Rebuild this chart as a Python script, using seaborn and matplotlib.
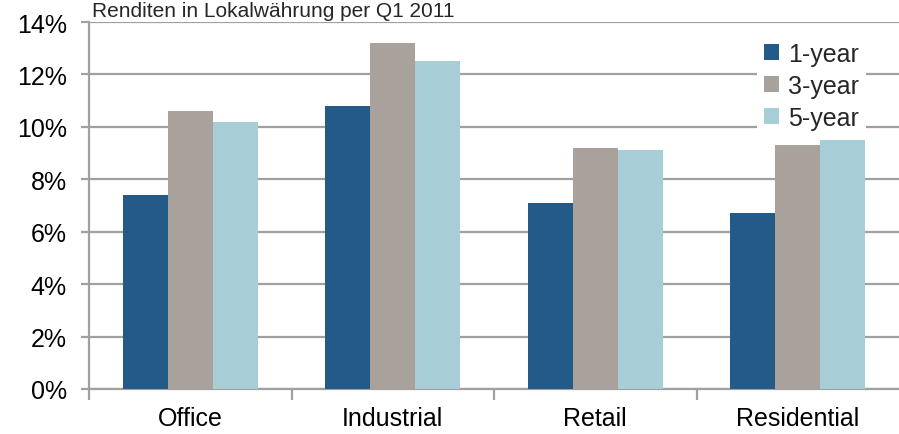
import matplotlib
matplotlib.use("Agg")
import matplotlib.pyplot as plt
import seaborn as sns
import pandas as pd
from matplotlib.ticker import FixedLocator

categories = ["Office", "Industrial", "Retail", "Residential"]
series = ["1-year", "3-year", "5-year"]
one_year = [7.4, 10.8, 7.1, 6.7]
three_year = [10.6, 13.2, 9.2, 9.3]
five_year = [10.2, 12.5, 9.1, 9.5]
y_ticks = [0, 2, 4, 6, 8, 10, 12, 14]
y_tick_labels = ["0%", "2%", "4%", "6%", "8%", "10%", "12%", "14%"]
title = "Renditen in Lokalwährung per Q1 2011"
colors = ["#245A87", "#A9A19C", "#A7CDD7"]

rows = []
for s, vals in zip(series, [one_year, three_year, five_year]):
    for c, v in zip(categories, vals):
        rows.append({"Category": c, "Series": s, "Value": v})
df = pd.DataFrame(rows)

sns.set_theme(style="white")
plt.rcParams["font.family"] = ["Liberation Sans", "DejaVu Sans"]

fig = plt.figure(figsize=(8.99, 4.35), dpi=100)
ax = fig.add_axes([89 / 899, 45 / 435, 810 / 899, 367 / 435])

sns.barplot(data=df, x="Category", y="Value", hue="Series", order=categories,
            hue_order=series, palette=colors, width=0.667, saturation=1,
            edgecolor="none", linewidth=0, ax=ax, zorder=3)

grid_color = "#A0A0A0"
ax.set_ylim(0, 14)
ax.set_xlim(-0.5, 3.5)
ax.set_yticks(y_ticks)
ax.set_yticklabels(y_tick_labels)
ax.yaxis.grid(True, color=grid_color, linewidth=1.6, zorder=0)
ax.xaxis.grid(False)
ax.set_axisbelow(True)
ax.set_xlabel("")
ax.set_ylabel("")

for side in ["top", "right"]:
    ax.spines[side].set_visible(False)
for side in ["left", "bottom"]:
    ax.spines[side].set_color(grid_color)
    ax.spines[side].set_linewidth(1.6)

ax.xaxis.set_minor_locator(FixedLocator([-0.5, 0.5, 1.5, 2.5]))
ax.tick_params(axis="x", which="major", length=0, pad=12, labelsize=18, colors="#000000")
ax.tick_params(axis="x", which="minor", length=8, width=1.6, color=grid_color, direction="out")
ax.tick_params(axis="x", which="both", bottom=True)
ax.tick_params(axis="y", which="major", length=6, width=1.6, color=grid_color,
               labelsize=18, pad=10, left=True, labelcolor="#000000")

leg = ax.legend(loc="upper right", bbox_to_anchor=(0.975, 1.0), frameon=True,
                fontsize=18, handlelength=0.6, handleheight=0.6, handletextpad=0.35,
                labelspacing=0.32, borderpad=0.3, fancybox=False)
leg.get_frame().set_facecolor("white")
leg.get_frame().set_edgecolor("none")
leg.get_frame().set_alpha(1)
leg.set_zorder(10)
leg.set_title(None)

fig.text(92 / 899, 1 - 17 / 435, title, fontsize=15, va="baseline", ha="left")

fig.savefig("out.png", dpi=100)
